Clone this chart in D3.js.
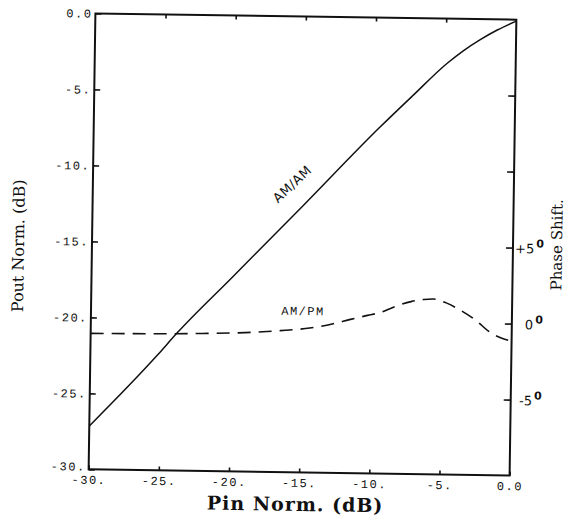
<!DOCTYPE html>
<html>
<head>
<meta charset="utf-8">
<script src="https://cdn.jsdelivr.net/npm/d3@7"></script>
<style>
  body { margin: 0; background: #fff; }
  svg { display: block; }
</style>
</head>
<body>
<svg id="chart" width="569" height="520"></svg>
<script>
// data
const pinTicks = [-30, -25, -20, -15, -10, -5, 0];
const pinTickLabels = ['-30.', '-25.', '-20.', '-15.', '-10.', '-5.', '0.0'];
const poutTicks = [0, -5, -10, -15, -20, -25, -30];
const poutTickLabels = ['0.0', '-5.', '-10.', '-15.', '-20.', '-25.', '-30.'];
const phaseTicks = [-5, 0, 5, 10, 15];
const phaseTickLabels = ['-5', '0', '+5', '', ''];

const amamPin = [-30, -25.25, -23.85, -20, -15, -9.6, -7.3, -4.9, -3.75, -2.55, -1.35, 0];
const amamPout = [-27.15, -22.45, -20.95, -17.25, -12.45, -7.2, -5.1, -2.95, -2.1, -1.35, -0.7, -0.1];

const ampmPin = [-30, -26, -22, -19, -16.5, -14.4, -12.8, -11.5, -10.3, -9.4, -8.5, -7.2, -6.3, -5.6, -4.7, -3.7, -2.6, -1.5, -0.6, 0];
const ampmPhase = [-1.05, -1.02, -0.95, -0.85, -0.69, -0.49, -0.2, 0.12, 0.4, 0.6, 0.95, 1.35, 1.5, 1.54, 1.3, 0.84, 0.2, -0.62, -1.0, -1.15];

const INK = '#111';
const MONO = "'Liberation Mono', 'DejaVu Sans Mono', monospace";
const SERIF = "'DejaVu Serif', serif";

const plotLeft = 92, plotRight = 513, plotTop = 16.5, plotBottom = 472.5;

const x = d3.scaleLinear().domain([-30, 0]).range([plotLeft, plotRight]);
const y = d3.scaleLinear().domain([-30, 0]).range([plotBottom, plotTop]);
const yPhase = d3.scaleLinear().domain([-10, 20]).range([plotBottom, plotTop]);

const svg = d3.select('#chart');
svg.append('rect').attr('width', 569).attr('height', 520).attr('fill', '#fff');

// the scanned figure sits slightly tilted
const g = svg.append('g')
  .attr('transform', `rotate(0.85, ${(plotLeft + plotRight) / 2}, ${(plotTop + plotBottom) / 2})`);

g.append('rect')
  .attr('x', plotLeft).attr('y', plotTop)
  .attr('width', plotRight - plotLeft).attr('height', plotBottom - plotTop)
  .attr('fill', 'none').attr('stroke', INK).attr('stroke-width', 2);

const styleAxis = (sel) => {
  sel.select('.domain').remove();
  sel.selectAll('.tick line').attr('stroke', INK).attr('stroke-width', 1.6);
  sel.selectAll('.tick text')
    .attr('fill', INK)
    .style('font-family', MONO)
    .style('font-size', '12px')
    .style('letter-spacing', '1.5px');
};

g.append('g')
  .attr('transform', `translate(0,${plotBottom})`)
  .call(d3.axisBottom(x).tickValues(pinTicks).tickSize(-4).tickPadding(6)
    .tickFormat((d, i) => pinTickLabels[i]))
  .call(styleAxis);

g.append('g')
  .attr('transform', `translate(0,${plotTop})`)
  .call(d3.axisTop(x).tickValues(pinTicks.slice(1, -1)).tickSize(-4).tickFormat(''))
  .call(styleAxis);

const leftAxis = g.append('g')
  .attr('transform', `translate(${plotLeft},0)`)
  .call(d3.axisLeft(y).tickValues(poutTicks).tickSize(-6).tickPadding(3)
    .tickFormat((d, i) => poutTickLabels[i]))
  .call(styleAxis);

// keep the corner label clear of the -30. below it
leftAxis.selectAll('.tick text').filter((d) => d === -30).attr('y', -3);

const rightAxis = g.append('g')
  .attr('transform', `translate(${plotRight},0)`)
  .call(d3.axisRight(yPhase).tickValues(phaseTicks).tickSize(-7).tickFormat(''))
  .call(styleAxis);

rightAxis.selectAll('.tick').each(function (d, i) {
  if (!phaseTickLabels[i]) return;
  const t = d3.select(this).append('text')
    .attr('x', 31).attr('y', 1)
    .attr('text-anchor', 'end')
    .attr('dominant-baseline', 'middle')
    .attr('fill', INK)
    .style('font-family', "'DejaVu Sans', sans-serif")
    .style('font-size', '13px');
  t.append('tspan').text(phaseTickLabels[i]);
  t.append('tspan').attr('dx', 2).attr('dy', -5).style('font-size', '11px')
    .style('font-weight', 'bold').text('0');
});

// curves
const amam = amamPin.map((p, i) => [p, amamPout[i]]);
const ampm = ampmPin.map((p, i) => [p, ampmPhase[i]]);

g.append('path')
  .datum(amam)
  .attr('fill', 'none').attr('stroke', INK).attr('stroke-width', 1.5)
  .attr('d', d3.line().x((d) => x(d[0])).y((d) => y(d[1])).curve(d3.curveMonotoneX));

g.append('path')
  .datum(ampm)
  .attr('fill', 'none').attr('stroke', INK).attr('stroke-width', 1.6)
  .attr('stroke-dasharray', '13,8')
  .attr('d', d3.line().x((d) => x(d[0])).y((d) => yPhase(d[1])).curve(d3.curveMonotoneX));

// curve labels
g.append('text')
  .attr('transform', 'translate(292,185) rotate(-44)')
  .attr('text-anchor', 'middle')
  .attr('dominant-baseline', 'middle')
  .attr('fill', INK)
  .style('font-family', "'DejaVu Sans', sans-serif")
  .style('font-size', '13px')
  .style('letter-spacing', '0.5px')
  .text('AM/AM');

g.append('text')
  .attr('x', 304).attr('y', 315)
  .attr('text-anchor', 'middle')
  .attr('fill', INK)
  .style('font-family', MONO)
  .style('font-size', '12px')
  .style('letter-spacing', '1.5px')
  .text('AM/PM');

// axis titles
g.append('text')
  .attr('x', 299).attr('y', 511)
  .attr('text-anchor', 'middle')
  .attr('fill', INK)
  .style('font-family', SERIF)
  .style('font-weight', 'bold')
  .style('font-size', '19px')
  .style('letter-spacing', '1px')
  .text('Pin Norm. (dB)');

g.append('text')
  .attr('transform', 'translate(24,250) rotate(-90)')
  .attr('text-anchor', 'middle')
  .attr('fill', INK)
  .style('font-family', SERIF)
  .style('font-size', '16px')
  .text('Pout Norm. (dB)');

g.append('text')
  .attr('transform', 'translate(562,241) rotate(-90)')
  .attr('text-anchor', 'middle')
  .attr('fill', INK)
  .style('font-family', SERIF)
  .style('font-size', '15px')
  .text('Phase Shift.');
</script>
</body>
</html>
